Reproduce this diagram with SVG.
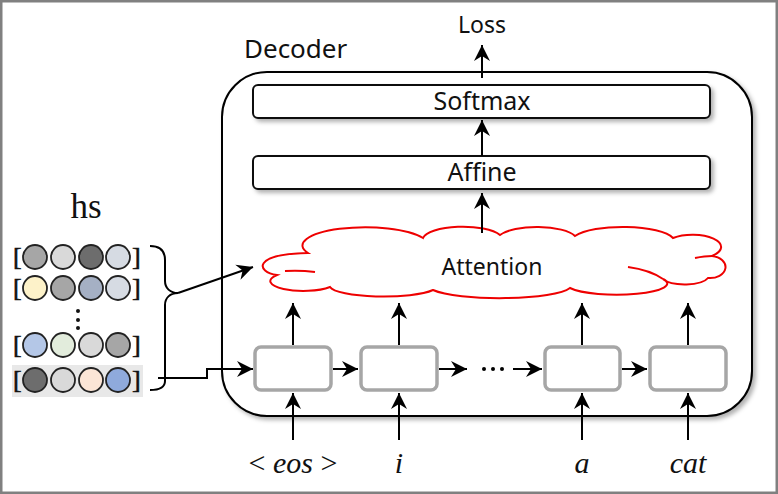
<svg xmlns="http://www.w3.org/2000/svg" width="778" height="494" viewBox="0 0 778 494">
<style>
.t{font-family:"Noto Sans","Open Sans","DejaVu Sans",sans-serif;fill:#111;text-anchor:middle}
.m{font-family:"Liberation Serif","DejaVu Serif",serif;font-style:italic;font-size:30px;fill:#111;text-anchor:middle}
.up{font-style:normal}
.br{font-family:"Liberation Serif","DejaVu Serif",serif;font-size:26px;fill:#111;stroke:#111;stroke-width:0.6}
.cell{fill:#fff;stroke:#a6a6a6;stroke-width:3.5}
.layer{fill:#fff;stroke:#111;stroke-width:2}
.c{stroke:#222;stroke-width:1.8}
.ln{fill:none;stroke:#000;stroke-width:2}
.ar{marker-end:url(#ah)}
</style>
<defs>
<marker id="ah" viewBox="-17 -9 18 18" refX="0" refY="0" markerWidth="18" markerHeight="18" markerUnits="userSpaceOnUse" orient="auto">
<path d="M-16,-8 L0,0 L-16,8 L-11,0 Z" fill="#000"/>
</marker>
<filter id="sh" x="-5%" y="-5%" width="115%" height="130%">
<feDropShadow dx="3" dy="3" stdDeviation="2" flood-color="#000" flood-opacity="0.3"/>
</filter>
</defs>
<rect x="1.25" y="1.25" width="775.5" height="491.5" fill="#fff" stroke="#808080" stroke-width="2.5"/>

<g id="decoder">
<rect x="222" y="72" width="530" height="344" rx="45" fill="#fff" stroke="#000" stroke-width="2" filter="url(#sh)"/>
<text class="t" x="244" y="58" font-size="26" style="text-anchor:start">Decoder</text>
</g>

<g id="loss"><text class="t" x="482" y="33" font-size="23">Loss</text></g>

<g id="softmax">
<rect class="layer" x="253" y="85" width="457" height="33" rx="5" filter="url(#sh)"/>
<text class="t" x="482" y="110" font-size="25">Softmax</text>
</g>

<g id="affine">
<rect class="layer" x="253" y="156" width="457" height="33" rx="5" filter="url(#sh)"/>
<text class="t" x="482" y="181" font-size="25">Affine</text>
</g>

<g id="attention">
<path d="M308 253 A62 18 0 0 1 423 238 A40 13 0 0 1 500 235 A40 13 0 0 1 575 236 A52 15 0 0 1 673 238 A28 12 0 0 1 712 256 A14 10 0 0 1 708 278 A24 9 0 0 1 663 279 A50 11 0 0 1 570 288 A72 13 0 0 1 433 290 A54 11 0 0 1 330 287 A30 9 0 0 1 277 275 C256 272 252 254 308 253 Z" fill="#fff" stroke="#e00" stroke-width="2"/>
<path d="M285 271 Q300 270 315 272 M628 267 Q650 270 663 279 M695 258 Q705 256 712 256" fill="none" stroke="#e00" stroke-width="2"/>
<text class="t" x="492" y="275" font-size="23">Attention</text>
</g>

<g id="cell1"><rect class="cell" x="255" y="347" width="76" height="43" rx="6"/></g>
<g id="cell2"><rect class="cell" x="361" y="347" width="76" height="43" rx="6"/></g>
<g id="cell3"><rect class="cell" x="545" y="347" width="75" height="43" rx="6"/></g>
<g id="cell4"><rect class="cell" x="650" y="347" width="76" height="43" rx="6"/></g>

<g id="ellipsis" fill="#000">
<circle cx="484" cy="369" r="2"/><circle cx="493" cy="369" r="2"/><circle cx="502" cy="369" r="2"/>
</g>

<g id="inputs">
<text class="m" x="293" y="473"><tspan class="up">&lt;</tspan> eos <tspan class="up">&gt;</tspan></text>
<text class="m" x="399" y="473">i</text>
<text class="m" x="582" y="473">a</text>
<text class="m" x="688" y="473">cat</text>
</g>

<g id="hs">
<text x="86" y="218" font-family="Liberation Serif, serif" font-size="35" fill="#111" text-anchor="middle">hs</text>
<rect x="12" y="365" width="131" height="32" fill="#e8e8e8"/>
<g id="row1">
<text class="br" x="13" y="265">[</text><text class="br" x="132" y="265">]</text>
<circle class="c" cx="35" cy="257" r="12" fill="#a6a6a6"/><circle class="c" cx="63" cy="257" r="12" fill="#d9d9d9"/><circle class="c" cx="91" cy="257" r="12" fill="#6d6d6d"/><circle class="c" cx="118" cy="257" r="12" fill="#d6dbe3"/>
</g>
<g id="row2">
<text class="br" x="13" y="296">[</text><text class="br" x="132" y="296">]</text>
<circle class="c" cx="35" cy="288" r="12" fill="#fdf2c9"/><circle class="c" cx="63" cy="288" r="12" fill="#a6a6a6"/><circle class="c" cx="91" cy="288" r="12" fill="#a5b0c4"/><circle class="c" cx="118" cy="288" r="12" fill="#d6dbe3"/>
</g>
<g fill="#111"><circle cx="78" cy="311" r="2"/><circle cx="78" cy="320" r="2"/><circle cx="78" cy="328" r="2"/></g>
<g id="row3">
<text class="br" x="13" y="353">[</text><text class="br" x="132" y="353">]</text>
<circle class="c" cx="35" cy="345" r="12" fill="#b4c7e7"/><circle class="c" cx="63" cy="345" r="12" fill="#e2ecdc"/><circle class="c" cx="91" cy="345" r="12" fill="#d9d9d9"/><circle class="c" cx="118" cy="345" r="12" fill="#a6a6a6"/>
</g>
<g id="row4">
<text class="br" x="13" y="388">[</text><text class="br" x="132" y="388">]</text>
<circle class="c" cx="35" cy="380" r="12" fill="#6d6d6d"/><circle class="c" cx="63" cy="380" r="12" fill="#d9d9d9"/><circle class="c" cx="91" cy="380" r="12" fill="#fbe5d6"/><circle class="c" cx="118" cy="380" r="12" fill="#8faadc"/>
</g>
</g>

<g id="connectors">
<path class="ln" d="M150 246 C160 246 165 251 165 260 L165 281 C165 288 170 293 178 293 C170 293 165 298 165 305 L165 381 C165 387 160 390 150 390"/>
<path class="ln ar" d="M178 293 L253 267"/>
<path class="ln ar" d="M158 378 L207 378 L207 369 L253 369"/>
<path class="ln ar" d="M482 78 L482 45"/>
<path class="ln ar" d="M482 156 L482 120"/>
<path class="ln ar" d="M482 233 L482 193"/>
<path class="ln ar" d="M293 345 L293 303"/>
<path class="ln ar" d="M399 345 L399 303"/>
<path class="ln ar" d="M582 345 L582 303"/>
<path class="ln ar" d="M688 345 L688 303"/>
<path class="ln ar" d="M293 440 L293 393"/>
<path class="ln ar" d="M399 440 L399 393"/>
<path class="ln ar" d="M582 440 L582 393"/>
<path class="ln ar" d="M688 440 L688 393"/>
<path class="ln ar" d="M333 369 L358 369"/>
<path class="ln ar" d="M439 369 L467 369"/>
<path class="ln ar" d="M513 369 L542 369"/>
<path class="ln ar" d="M622 369 L647 369"/>
</g>
</svg>
